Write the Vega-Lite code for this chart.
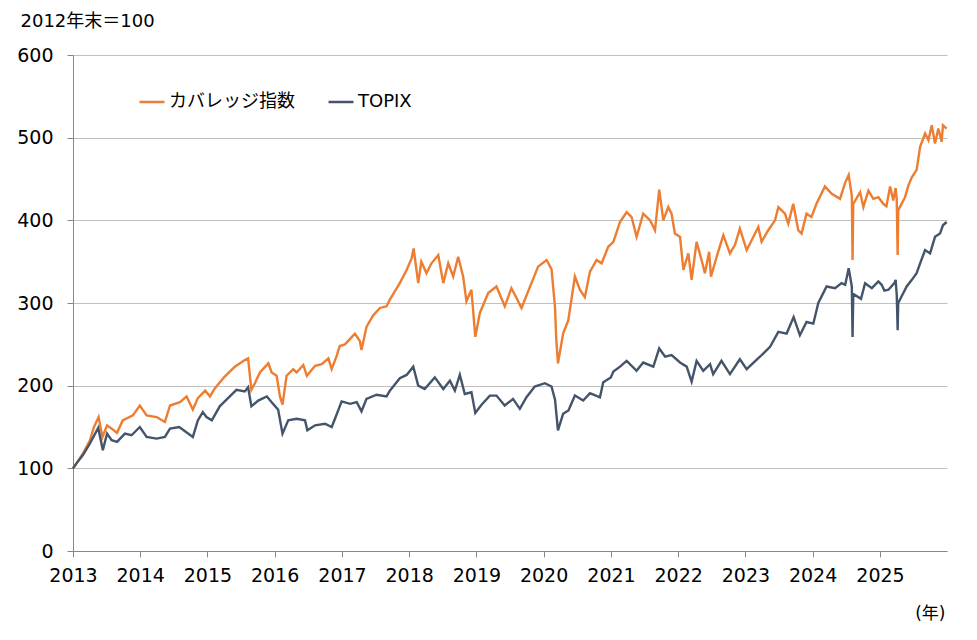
{
  "$schema": "https://vega.github.io/schema/vega-lite/v6.json",
  "width": 874,
  "height": 496,
  "autosize": {"type": "none"},
  "padding": {"left": 73, "top": 55, "right": 30, "bottom": 89},
  "background": "white",
  "config": {
    "view": {"stroke": null},
    "font": "DejaVu Sans, Noto Sans CJK JP"
  },
  "data": {"values": [
    {"date":"2013-01-01","series":"カバレッジ指数","value":100},
    {"date":"2013-01-20","series":"カバレッジ指数","value":106},
    {"date":"2013-02-24","series":"カバレッジ指数","value":118},
    {"date":"2013-04-03","series":"カバレッジ指数","value":134},
    {"date":"2013-04-25","series":"カバレッジ指数","value":150},
    {"date":"2013-05-20","series":"カバレッジ指数","value":162},
    {"date":"2013-06-10","series":"カバレッジ指数","value":138},
    {"date":"2013-07-05","series":"カバレッジ指数","value":152},
    {"date":"2013-07-30","series":"カバレッジ指数","value":148},
    {"date":"2013-08-28","series":"カバレッジ指数","value":143},
    {"date":"2013-09-28","series":"カバレッジ指数","value":158},
    {"date":"2013-11-22","series":"カバレッジ指数","value":164},
    {"date":"2013-12-30","series":"カバレッジ指数","value":176},
    {"date":"2014-02-05","series":"カバレッジ指数","value":164},
    {"date":"2014-03-31","series":"カバレッジ指数","value":162},
    {"date":"2014-05-15","series":"カバレッジ指数","value":156},
    {"date":"2014-06-12","series":"カバレッジ指数","value":176},
    {"date":"2014-08-05","series":"カバレッジ指数","value":180},
    {"date":"2014-09-10","series":"カバレッジ指数","value":187},
    {"date":"2014-10-14","series":"カバレッジ指数","value":171},
    {"date":"2014-11-10","series":"カバレッジ指数","value":185},
    {"date":"2014-12-20","series":"カバレッジ指数","value":194},
    {"date":"2015-01-15","series":"カバレッジ指数","value":187},
    {"date":"2015-02-11","series":"カバレッジ指数","value":197},
    {"date":"2015-04-05","series":"カバレッジ指数","value":211},
    {"date":"2015-05-30","series":"カバレッジ指数","value":223},
    {"date":"2015-07-23","series":"カバレッジ指数","value":231},
    {"date":"2015-08-10","series":"カバレッジ指数","value":233},
    {"date":"2015-08-28","series":"カバレッジ指数","value":195},
    {"date":"2015-09-16","series":"カバレッジ指数","value":203},
    {"date":"2015-10-13","series":"カバレッジ指数","value":216},
    {"date":"2015-11-28","series":"カバレッジ指数","value":227},
    {"date":"2015-12-16","series":"カバレッジ指数","value":216},
    {"date":"2016-01-12","series":"カバレッジ指数","value":212},
    {"date":"2016-01-30","series":"カバレッジ指数","value":187},
    {"date":"2016-02-13","series":"カバレッジ指数","value":177},
    {"date":"2016-03-06","series":"カバレッジ指数","value":212},
    {"date":"2016-04-11","series":"カバレッジ指数","value":220},
    {"date":"2016-04-29","series":"カバレッジ指数","value":216},
    {"date":"2016-06-05","series":"カバレッジ指数","value":225},
    {"date":"2016-06-24","series":"カバレッジ指数","value":212},
    {"date":"2016-08-08","series":"カバレッジ指数","value":224},
    {"date":"2016-09-13","series":"カバレッジ指数","value":226},
    {"date":"2016-10-19","series":"カバレッジ指数","value":233},
    {"date":"2016-11-06","series":"カバレッジ指数","value":220},
    {"date":"2016-12-03","series":"カバレッジ指数","value":236},
    {"date":"2016-12-20","series":"カバレッジ指数","value":248},
    {"date":"2017-01-17","series":"カバレッジ指数","value":250},
    {"date":"2017-03-12","series":"カバレッジ指数","value":263},
    {"date":"2017-04-08","series":"カバレッジ指数","value":254},
    {"date":"2017-04-17","series":"カバレッジ指数","value":243},
    {"date":"2017-05-14","series":"カバレッジ指数","value":271},
    {"date":"2017-06-19","series":"カバレッジ指数","value":285},
    {"date":"2017-07-26","series":"カバレッジ指数","value":294},
    {"date":"2017-08-31","series":"カバレッジ指数","value":296},
    {"date":"2017-09-18","series":"カバレッジ指数","value":304},
    {"date":"2017-10-15","series":"カバレッジ指数","value":314},
    {"date":"2017-11-11","series":"カバレッジ指数","value":324},
    {"date":"2017-12-18","series":"カバレッジ指数","value":340},
    {"date":"2018-01-14","series":"カバレッジ指数","value":354},
    {"date":"2018-01-25","series":"カバレッジ指数","value":366},
    {"date":"2018-02-19","series":"カバレッジ指数","value":324},
    {"date":"2018-03-08","series":"カバレッジ指数","value":350},
    {"date":"2018-04-05","series":"カバレッジ指数","value":336},
    {"date":"2018-05-02","series":"カバレッジ指数","value":348},
    {"date":"2018-06-08","series":"カバレッジ指数","value":358},
    {"date":"2018-07-05","series":"カバレッジ指数","value":324},
    {"date":"2018-08-01","series":"カバレッジ指数","value":348},
    {"date":"2018-08-28","series":"カバレッジ指数","value":332},
    {"date":"2018-09-24","series":"カバレッジ指数","value":356},
    {"date":"2018-10-21","series":"カバレッジ指数","value":332},
    {"date":"2018-11-08","series":"カバレッジ指数","value":302},
    {"date":"2018-12-05","series":"カバレッジ指数","value":316},
    {"date":"2018-12-26","series":"カバレッジ指数","value":259},
    {"date":"2019-01-20","series":"カバレッジ指数","value":288},
    {"date":"2019-03-06","series":"カバレッジ指数","value":312},
    {"date":"2019-04-20","series":"カバレッジ指数","value":320},
    {"date":"2019-06-04","series":"カバレッジ指数","value":296},
    {"date":"2019-07-10","series":"カバレッジ指数","value":318},
    {"date":"2019-08-07","series":"カバレッジ指数","value":306},
    {"date":"2019-09-03","series":"カバレッジ指数","value":294},
    {"date":"2019-10-09","series":"カバレッジ指数","value":314},
    {"date":"2019-12-02","series":"カバレッジ指数","value":344},
    {"date":"2020-01-17","series":"カバレッジ指数","value":352},
    {"date":"2020-02-13","series":"カバレッジ指数","value":341},
    {"date":"2020-03-03","series":"カバレッジ指数","value":295},
    {"date":"2020-03-10","series":"カバレッジ指数","value":255},
    {"date":"2020-03-19","series":"カバレッジ指数","value":227},
    {"date":"2020-04-16","series":"カバレッジ指数","value":263},
    {"date":"2020-05-14","series":"カバレッジ指数","value":279},
    {"date":"2020-06-19","series":"カバレッジ指数","value":332},
    {"date":"2020-07-16","series":"カバレッジ指数","value":316},
    {"date":"2020-08-12","series":"カバレッジ指数","value":307},
    {"date":"2020-09-09","series":"カバレッジ指数","value":338},
    {"date":"2020-10-15","series":"カバレッジ指数","value":352},
    {"date":"2020-11-11","series":"カバレッジ指数","value":348},
    {"date":"2020-12-17","series":"カバレッジ指数","value":368},
    {"date":"2021-01-14","series":"カバレッジ指数","value":374},
    {"date":"2021-02-01","series":"カバレッジ指数","value":386},
    {"date":"2021-02-19","series":"カバレッジ指数","value":398},
    {"date":"2021-03-27","series":"カバレッジ指数","value":410},
    {"date":"2021-04-23","series":"カバレッジ指数","value":404},
    {"date":"2021-05-20","series":"カバレッジ指数","value":380},
    {"date":"2021-06-25","series":"カバレッジ指数","value":408},
    {"date":"2021-08-01","series":"カバレッジ指数","value":400},
    {"date":"2021-08-28","series":"カバレッジ指数","value":388},
    {"date":"2021-09-20","series":"カバレッジ指数","value":437},
    {"date":"2021-10-12","series":"カバレッジ指数","value":400},
    {"date":"2021-11-08","series":"カバレッジ指数","value":416},
    {"date":"2021-11-26","series":"カバレッジ指数","value":408},
    {"date":"2021-12-14","series":"カバレッジ指数","value":384},
    {"date":"2022-01-11","series":"カバレッジ指数","value":380},
    {"date":"2022-01-29","series":"カバレッジ指数","value":340},
    {"date":"2022-02-25","series":"カバレッジ指数","value":360},
    {"date":"2022-03-15","series":"カバレッジ指数","value":328},
    {"date":"2022-04-11","series":"カバレッジ指数","value":374},
    {"date":"2022-05-08","series":"カバレッジ指数","value":352},
    {"date":"2022-05-26","series":"カバレッジ指数","value":336},
    {"date":"2022-06-18","series":"カバレッジ指数","value":362},
    {"date":"2022-06-28","series":"カバレッジ指数","value":332},
    {"date":"2022-07-29","series":"カバレッジ指数","value":356},
    {"date":"2022-09-03","series":"カバレッジ指数","value":382},
    {"date":"2022-10-09","series":"カバレッジ指数","value":360},
    {"date":"2022-11-05","series":"カバレッジ指数","value":370},
    {"date":"2022-12-02","series":"カバレッジ指数","value":390},
    {"date":"2023-01-08","series":"カバレッジ指数","value":364},
    {"date":"2023-02-04","series":"カバレッジ指数","value":376},
    {"date":"2023-03-12","series":"カバレッジ指数","value":392},
    {"date":"2023-03-30","series":"カバレッジ指数","value":374},
    {"date":"2023-05-05","series":"カバレッジ指数","value":388},
    {"date":"2023-06-11","series":"カバレッジ指数","value":400},
    {"date":"2023-06-29","series":"カバレッジ指数","value":416},
    {"date":"2023-08-04","series":"カバレッジ指数","value":408},
    {"date":"2023-08-22","series":"カバレッジ指数","value":396},
    {"date":"2023-09-18","series":"カバレッジ指数","value":420},
    {"date":"2023-10-15","series":"カバレッジ指数","value":388},
    {"date":"2023-11-02","series":"カバレッジ指数","value":384},
    {"date":"2023-11-29","series":"カバレッジ指数","value":408},
    {"date":"2023-12-26","series":"カバレッジ指数","value":404},
    {"date":"2024-01-22","series":"カバレッジ指数","value":420},
    {"date":"2024-03-08","series":"カバレッジ指数","value":441},
    {"date":"2024-04-14","series":"カバレッジ指数","value":432},
    {"date":"2024-05-29","series":"カバレッジ指数","value":426},
    {"date":"2024-06-25","series":"カバレッジ指数","value":445},
    {"date":"2024-07-15","series":"カバレッジ指数","value":455},
    {"date":"2024-08-01","series":"カバレッジ指数","value":430},
    {"date":"2024-08-05","series":"カバレッジ指数","value":352},
    {"date":"2024-08-09","series":"カバレッジ指数","value":420},
    {"date":"2024-09-15","series":"カバレッジ指数","value":434},
    {"date":"2024-10-03","series":"カバレッジ指数","value":416},
    {"date":"2024-10-30","series":"カバレッジ指数","value":436},
    {"date":"2024-11-26","series":"カバレッジ指数","value":426},
    {"date":"2024-12-23","series":"カバレッジ指数","value":428},
    {"date":"2025-01-19","series":"カバレッジ指数","value":420},
    {"date":"2025-02-05","series":"カバレッジ指数","value":417},
    {"date":"2025-02-25","series":"カバレッジ指数","value":441},
    {"date":"2025-03-14","series":"カバレッジ指数","value":424},
    {"date":"2025-03-27","series":"カバレッジ指数","value":439},
    {"date":"2025-04-02","series":"カバレッジ指数","value":425},
    {"date":"2025-04-07","series":"カバレッジ指数","value":358},
    {"date":"2025-04-10","series":"カバレッジ指数","value":412},
    {"date":"2025-05-17","series":"カバレッジ指数","value":428},
    {"date":"2025-06-04","series":"カバレッジ指数","value":442},
    {"date":"2025-06-23","series":"カバレッジ指数","value":452},
    {"date":"2025-07-19","series":"カバレッジ指数","value":461},
    {"date":"2025-08-07","series":"カバレッジ指数","value":489},
    {"date":"2025-09-03","series":"カバレッジ指数","value":505},
    {"date":"2025-09-21","series":"カバレッジ指数","value":497},
    {"date":"2025-10-09","series":"カバレッジ指数","value":515},
    {"date":"2025-10-27","series":"カバレッジ指数","value":493},
    {"date":"2025-11-14","series":"カバレッジ指数","value":511},
    {"date":"2025-12-02","series":"カバレッジ指数","value":495},
    {"date":"2025-12-09","series":"カバレッジ指数","value":515},
    {"date":"2025-12-29","series":"カバレッジ指数","value":511},
    {"date":"2013-01-01","series":"TOPIX","value":100},
    {"date":"2013-01-20","series":"TOPIX","value":106},
    {"date":"2013-02-24","series":"TOPIX","value":116},
    {"date":"2013-04-03","series":"TOPIX","value":130},
    {"date":"2013-05-18","series":"TOPIX","value":149},
    {"date":"2013-06-12","series":"TOPIX","value":122},
    {"date":"2013-07-05","series":"TOPIX","value":142},
    {"date":"2013-07-30","series":"TOPIX","value":134},
    {"date":"2013-08-28","series":"TOPIX","value":132},
    {"date":"2013-10-10","series":"TOPIX","value":142},
    {"date":"2013-11-15","series":"TOPIX","value":140},
    {"date":"2013-12-30","series":"TOPIX","value":150},
    {"date":"2014-02-05","series":"TOPIX","value":138},
    {"date":"2014-03-31","series":"TOPIX","value":136},
    {"date":"2014-05-15","series":"TOPIX","value":138},
    {"date":"2014-06-12","series":"TOPIX","value":148},
    {"date":"2014-08-01","series":"TOPIX","value":150},
    {"date":"2014-10-14","series":"TOPIX","value":138},
    {"date":"2014-11-10","series":"TOPIX","value":158},
    {"date":"2014-12-07","series":"TOPIX","value":168},
    {"date":"2014-12-27","series":"TOPIX","value":162},
    {"date":"2015-01-25","series":"TOPIX","value":158},
    {"date":"2015-03-09","series":"TOPIX","value":175},
    {"date":"2015-04-23","series":"TOPIX","value":185},
    {"date":"2015-06-08","series":"TOPIX","value":195},
    {"date":"2015-07-23","series":"TOPIX","value":193},
    {"date":"2015-08-10","series":"TOPIX","value":198},
    {"date":"2015-08-28","series":"TOPIX","value":175},
    {"date":"2015-10-04","series":"TOPIX","value":182},
    {"date":"2015-11-20","series":"TOPIX","value":187},
    {"date":"2015-12-16","series":"TOPIX","value":180},
    {"date":"2016-01-20","series":"TOPIX","value":171},
    {"date":"2016-02-13","series":"TOPIX","value":142},
    {"date":"2016-03-15","series":"TOPIX","value":158},
    {"date":"2016-04-30","series":"TOPIX","value":160},
    {"date":"2016-06-14","series":"TOPIX","value":158},
    {"date":"2016-06-27","series":"TOPIX","value":146},
    {"date":"2016-08-08","series":"TOPIX","value":152},
    {"date":"2016-10-01","series":"TOPIX","value":154},
    {"date":"2016-11-06","series":"TOPIX","value":150},
    {"date":"2016-11-24","series":"TOPIX","value":160},
    {"date":"2016-12-30","series":"TOPIX","value":181},
    {"date":"2017-02-14","series":"TOPIX","value":178},
    {"date":"2017-03-22","series":"TOPIX","value":180},
    {"date":"2017-04-17","series":"TOPIX","value":169},
    {"date":"2017-05-14","series":"TOPIX","value":184},
    {"date":"2017-07-08","series":"TOPIX","value":189},
    {"date":"2017-08-31","series":"TOPIX","value":187},
    {"date":"2017-09-18","series":"TOPIX","value":194},
    {"date":"2017-11-11","series":"TOPIX","value":209},
    {"date":"2017-12-18","series":"TOPIX","value":213},
    {"date":"2018-01-23","series":"TOPIX","value":223},
    {"date":"2018-02-19","series":"TOPIX","value":200},
    {"date":"2018-03-26","series":"TOPIX","value":196},
    {"date":"2018-05-20","series":"TOPIX","value":210},
    {"date":"2018-07-05","series":"TOPIX","value":196},
    {"date":"2018-08-10","series":"TOPIX","value":206},
    {"date":"2018-09-06","series":"TOPIX","value":194},
    {"date":"2018-10-03","series":"TOPIX","value":213},
    {"date":"2018-10-30","series":"TOPIX","value":190},
    {"date":"2018-12-05","series":"TOPIX","value":192},
    {"date":"2018-12-26","series":"TOPIX","value":167},
    {"date":"2019-01-29","series":"TOPIX","value":177},
    {"date":"2019-03-15","series":"TOPIX","value":188},
    {"date":"2019-04-20","series":"TOPIX","value":188},
    {"date":"2019-06-04","series":"TOPIX","value":176},
    {"date":"2019-07-19","series":"TOPIX","value":184},
    {"date":"2019-08-25","series":"TOPIX","value":172},
    {"date":"2019-09-30","series":"TOPIX","value":186},
    {"date":"2019-11-14","series":"TOPIX","value":199},
    {"date":"2020-01-08","series":"TOPIX","value":203},
    {"date":"2020-02-13","series":"TOPIX","value":199},
    {"date":"2020-03-03","series":"TOPIX","value":183},
    {"date":"2020-03-19","series":"TOPIX","value":146},
    {"date":"2020-04-16","series":"TOPIX","value":166},
    {"date":"2020-05-15","series":"TOPIX","value":170},
    {"date":"2020-06-19","series":"TOPIX","value":188},
    {"date":"2020-08-03","series":"TOPIX","value":182},
    {"date":"2020-09-09","series":"TOPIX","value":191},
    {"date":"2020-11-02","series":"TOPIX","value":186},
    {"date":"2020-11-20","series":"TOPIX","value":204},
    {"date":"2020-12-31","series":"TOPIX","value":210},
    {"date":"2021-01-14","series":"TOPIX","value":217},
    {"date":"2021-02-19","series":"TOPIX","value":223},
    {"date":"2021-03-27","series":"TOPIX","value":230},
    {"date":"2021-05-20","series":"TOPIX","value":218},
    {"date":"2021-06-25","series":"TOPIX","value":228},
    {"date":"2021-08-19","series":"TOPIX","value":223},
    {"date":"2021-09-20","series":"TOPIX","value":245},
    {"date":"2021-10-22","series":"TOPIX","value":235},
    {"date":"2021-11-26","series":"TOPIX","value":237},
    {"date":"2022-01-11","series":"TOPIX","value":228},
    {"date":"2022-02-16","series":"TOPIX","value":223},
    {"date":"2022-03-15","series":"TOPIX","value":205},
    {"date":"2022-04-11","series":"TOPIX","value":230},
    {"date":"2022-05-17","series":"TOPIX","value":218},
    {"date":"2022-06-23","series":"TOPIX","value":226},
    {"date":"2022-07-10","series":"TOPIX","value":214},
    {"date":"2022-08-24","series":"TOPIX","value":230},
    {"date":"2022-10-09","series":"TOPIX","value":214},
    {"date":"2022-12-02","series":"TOPIX","value":232},
    {"date":"2023-01-08","series":"TOPIX","value":220},
    {"date":"2023-03-21","series":"TOPIX","value":235},
    {"date":"2023-05-15","series":"TOPIX","value":247},
    {"date":"2023-06-29","series":"TOPIX","value":265},
    {"date":"2023-08-13","series":"TOPIX","value":263},
    {"date":"2023-09-20","series":"TOPIX","value":283},
    {"date":"2023-10-24","series":"TOPIX","value":261},
    {"date":"2023-11-29","series":"TOPIX","value":277},
    {"date":"2024-01-05","series":"TOPIX","value":275},
    {"date":"2024-02-01","series":"TOPIX","value":300},
    {"date":"2024-03-17","series":"TOPIX","value":320},
    {"date":"2024-05-02","series":"TOPIX","value":318},
    {"date":"2024-06-06","series":"TOPIX","value":324},
    {"date":"2024-06-26","series":"TOPIX","value":322},
    {"date":"2024-07-15","series":"TOPIX","value":342},
    {"date":"2024-08-01","series":"TOPIX","value":320},
    {"date":"2024-08-05","series":"TOPIX","value":259},
    {"date":"2024-08-09","series":"TOPIX","value":311},
    {"date":"2024-09-20","series":"TOPIX","value":305},
    {"date":"2024-10-12","series":"TOPIX","value":324},
    {"date":"2024-11-18","series":"TOPIX","value":318},
    {"date":"2024-12-23","series":"TOPIX","value":326},
    {"date":"2025-01-10","series":"TOPIX","value":322},
    {"date":"2025-01-25","series":"TOPIX","value":315},
    {"date":"2025-02-16","series":"TOPIX","value":316},
    {"date":"2025-03-20","series":"TOPIX","value":324},
    {"date":"2025-03-27","series":"TOPIX","value":328},
    {"date":"2025-04-02","series":"TOPIX","value":310},
    {"date":"2025-04-07","series":"TOPIX","value":267},
    {"date":"2025-04-10","series":"TOPIX","value":300},
    {"date":"2025-05-26","series":"TOPIX","value":320},
    {"date":"2025-06-23","series":"TOPIX","value":328},
    {"date":"2025-07-19","series":"TOPIX","value":336},
    {"date":"2025-08-07","series":"TOPIX","value":348},
    {"date":"2025-09-03","series":"TOPIX","value":364},
    {"date":"2025-09-30","series":"TOPIX","value":360},
    {"date":"2025-10-27","series":"TOPIX","value":380},
    {"date":"2025-11-23","series":"TOPIX","value":384},
    {"date":"2025-12-09","series":"TOPIX","value":394},
    {"date":"2025-12-29","series":"TOPIX","value":398}
  ]},
  "mark": {"type": "line", "strokeWidth": 2.4, "interpolate": "linear"},
  "encoding": {
    "x": {
      "field": "date",
      "type": "temporal",
      "scale": {
        "type": "utc",
        "nice": false,
        "domain": [
          {"year": 2013, "month": 1, "date": 1, "utc": true},
          {"year": 2025, "month": 12, "date": 31, "utc": true}
        ]
      },
      "axis": {
        "title": "(年)",
        "titleFont": "DejaVu Sans, Noto Sans CJK JP",
        "titleFontSize": 17,
        "titleFontWeight": "normal",
        "titleColor": "#000000",
        "titleAnchor": "end",
        "titleAlign": "right",
        "titleBaseline": "middle",
        "titleX": 872,
        "titleY": 62,
        "tickCount": {"interval": "year", "step": 1},
        "format": "%Y",
        "formatType": "utc",
        "labelFontSize": 19,
        "labelColor": "#000000",
        "labelPadding": 9,
        "labelFlush": false,
        "labelOverlap": false,
        "grid": false,
        "domainColor": "#888888",
        "domainWidth": 1,
        "tickColor": "#888888",
        "tickSize": 6
      }
    },
    "y": {
      "field": "value",
      "type": "quantitative",
      "scale": {"domain": [0, 600], "nice": false},
      "axis": {
        "title": "2012年末＝100",
        "titleFont": "DejaVu Sans, Noto Sans CJK JP",
        "titleFontSize": 18,
        "titleFontWeight": "normal",
        "titleColor": "#000000",
        "titleAngle": 0,
        "titleAlign": "left",
        "titleBaseline": "middle",
        "titleX": -53,
        "titleY": -34,
        "values": [0, 100, 200, 300, 400, 500, 600],
        "labelFontSize": 19,
        "labelColor": "#000000",
        "labelPadding": 14,
        "grid": true,
        "gridColor": "#c0c0c0",
        "gridWidth": 1,
        "domainColor": "#888888",
        "domainWidth": 1,
        "tickColor": "#888888",
        "tickSize": 6
      }
    },
    "color": {
      "field": "series",
      "type": "nominal",
      "scale": {
        "domain": ["カバレッジ指数", "TOPIX"],
        "range": ["#ED7D31", "#44546A"]
      },
      "legend": {
        "title": null,
        "orient": "none",
        "legendX": 65,
        "legendY": 33,
        "direction": "horizontal",
        "symbolType": "stroke",
        "symbolSize": 625,
        "symbolStrokeWidth": 2.5,
        "labelFont": "DejaVu Sans, Noto Sans CJK JP",
        "labelFontSize": 18,
        "labelColor": "#000000",
        "labelOffset": 3,
        "columnPadding": 28
      }
    }
  }
}
